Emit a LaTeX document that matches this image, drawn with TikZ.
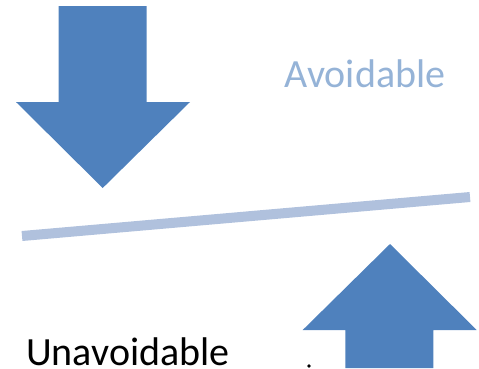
\documentclass[tikz,border=0pt]{standalone}
\usepackage{fontspec}
\setmainfont{Carlito}
\definecolor{arrowblue}{HTML}{4F81BD}
\definecolor{beamblue}{HTML}{B0C1DD}
\definecolor{softblue}{HTML}{95B3D7}
\begin{document}
\begin{tikzpicture}[x=1pt,y=-1pt,
  blockarrow/.style={fill=arrowblue,draw=none},
  label/.style={font=\fontsize{40}{44}\selectfont,inner sep=0pt,anchor=base,text depth=0pt}]
\useasboundingbox (0,0) rectangle (479,368);
% pressure pushing down
\fill[blockarrow] (58.7,6) -- (146.7,6) -- (146.7,102) -- (190,102)
  -- (102.7,188) -- (16,102) -- (58.7,102) -- cycle;
% pressure pushing up
\fill[blockarrow] (345.3,368) -- (345.3,330) -- (302.7,330) -- (390,244)
  -- (476.7,330) -- (433.3,330) -- (433.3,368) -- cycle;
% tilted beam
\coordinate (beamL) at (22,236);
\coordinate (beamR) at (470,197);
\draw[beamblue,line width=10pt] (beamL) -- (beamR);
% labels
\node[label,text=softblue] (avoid) at (365,87.7) {Avoidable};
\node[label,text=black] (unavoid) at (128,365) {Unavoidable};
\fill[black] (309,366) circle (1.8);
\end{tikzpicture}
\end{document}
